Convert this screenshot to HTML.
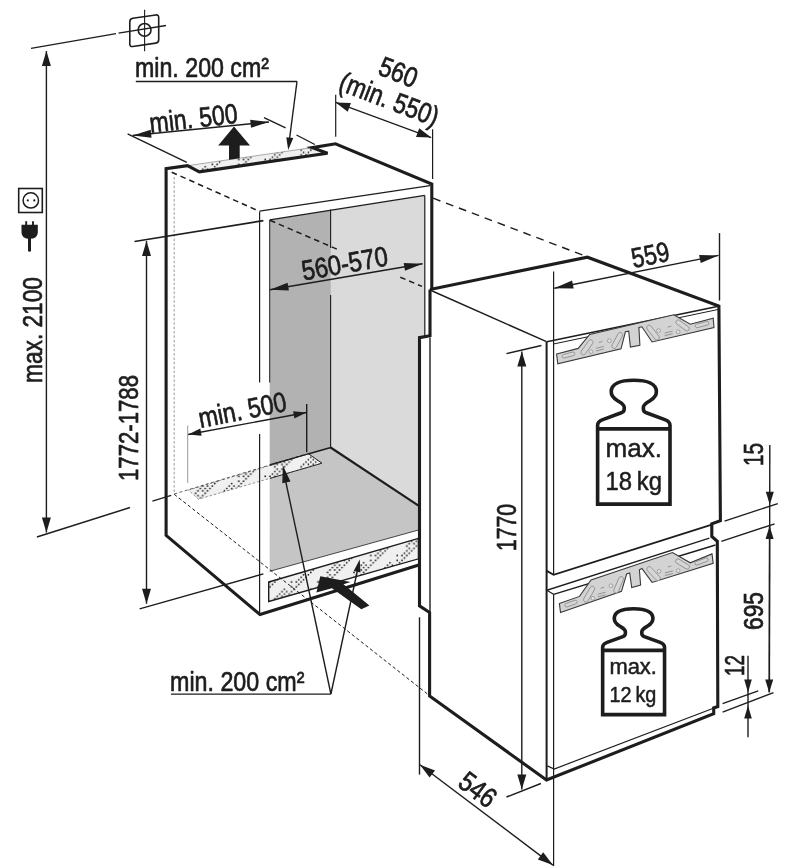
<!DOCTYPE html>
<html><head><meta charset="utf-8"><title>Einbauskizze</title>
<style>
html,body{margin:0;padding:0;background:#fff;}
body{width:785px;height:868px;overflow:hidden;}
svg{display:block;filter:grayscale(1);}
text{font-family:"Liberation Sans",sans-serif;fill:#1d1d1b;stroke:#1d1d1b;stroke-width:0.7px;stroke-linejoin:round;}
</style></head><body>
<svg width="785" height="868" viewBox="0 0 785 868">
<defs>
<pattern id="dots" width="26.4" height="26.4" patternUnits="userSpaceOnUse">
<rect width="26.4" height="26.4" fill="#f0f0f0"/><g fill="#111"><circle cx="1.2" cy="1.2" r="0.85"/><circle cx="1.2" cy="6.0" r="0.85"/><circle cx="1.2" cy="10.8" r="0.85"/><circle cx="3.6" cy="8.4" r="0.85"/><circle cx="6.0" cy="1.2" r="0.85"/><circle cx="6.0" cy="6.0" r="0.85"/><circle cx="8.4" cy="3.6" r="0.85"/><circle cx="8.4" cy="25.2" r="0.85"/><circle cx="10.8" cy="1.2" r="0.85"/><circle cx="10.8" cy="18.0" r="0.85"/><circle cx="10.8" cy="22.8" r="0.85"/><circle cx="13.2" cy="15.6" r="0.85"/><circle cx="13.2" cy="20.4" r="0.85"/><circle cx="13.2" cy="25.2" r="0.85"/><circle cx="15.6" cy="13.2" r="0.85"/><circle cx="15.6" cy="22.8" r="0.85"/><circle cx="18.0" cy="10.8" r="0.85"/><circle cx="18.0" cy="15.6" r="0.85"/><circle cx="18.0" cy="20.4" r="0.85"/><circle cx="20.4" cy="8.4" r="0.85"/><circle cx="20.4" cy="13.2" r="0.85"/><circle cx="20.4" cy="18.0" r="0.85"/><circle cx="22.8" cy="10.8" r="0.85"/><circle cx="22.8" cy="15.6" r="0.85"/><circle cx="25.2" cy="13.2" r="0.85"/></g>
</pattern>
</defs>
<path d="M269.7,219.9 L330.9,210.2 L330.9,448 L269.7,466 Z" fill="#b2b2b2" stroke="none" stroke-width="0" stroke-linejoin="miter" />
<path d="M330.9,210.2 L424.8,195.4 L424.8,337 L418.5,337 L418.5,505.7 L330.9,448 Z" fill="#dadada" stroke="none" stroke-width="0" stroke-linejoin="miter" />
<path d="M269.7,466 L308,454.1 L330.9,448 L418.5,505.7 L418.5,530 L269.7,571.3 Z" fill="#c5c5c5" stroke="none" stroke-width="0" stroke-linejoin="miter" />
<path d="M187.5,165.7 L199.3,171.8 L327.5,153.3 L312.2,147.6 Z" fill="url(#dots)" stroke="#888" stroke-width="0.7" stroke-linejoin="miter" />
<path d="M188.3,490.1 L308.6,453.8 L321.9,463.2 L198.5,499.2 Z" fill="url(#dots)" stroke="#666" stroke-width="0.7" stroke-linejoin="miter" stroke-dasharray="2.5,2"/>
<path d="M269.9,465.5 L308.6,453.8 L321.9,463.2 L269.9,478.4" fill="none" stroke="#1d1d1b" stroke-width="0.9" stroke-linejoin="miter" />
<path d="M268.7,582 L418.5,538.4 L418.5,558.8 L268.7,601.5 Z" fill="url(#dots)" stroke="#1d1d1b" stroke-width="1.4" stroke-linejoin="miter" />
<path d="M431.8,289 L431.8,184 L335.5,143.8 L312.2,147.6 L327.5,153.3 L199.3,171.8 L187.5,165.7 L166.1,168.7 L166.1,535.4 L260,614.6 L418.8,565" fill="none" stroke="#1d1d1b" stroke-width="3.1" stroke-linejoin="miter" />
<path d="M430,289.4 L587.4,257.2 L718.9,306 L720.4,520.6 L711.8,523.8 L711.8,536.5 L717.3,541.3 L717.8,706.6 L713.7,707.9 L713.7,713.8 L546.5,780 L429.6,696 L429.6,612.5 L419.5,605.9 L419.5,337.6 L430,335.8 L430,289.4" fill="none" stroke="#1d1d1b" stroke-width="3.1" stroke-linejoin="miter" />
<line x1="259.6" y1="211.5" x2="259.6" y2="382.5" stroke="#1d1d1b" stroke-width="1.2" />
<line x1="259.6" y1="434" x2="259.6" y2="614" stroke="#1d1d1b" stroke-width="1.2" />
<line x1="269.7" y1="220" x2="269.7" y2="382.5" stroke="#1d1d1b" stroke-width="1.0" />
<line x1="259.6" y1="211.2" x2="430" y2="185.7" stroke="#1d1d1b" stroke-width="1.2" />
<line x1="269.7" y1="219.9" x2="424.8" y2="195.4" stroke="#1d1d1b" stroke-width="1.2" />
<line x1="424.8" y1="195.4" x2="424.8" y2="337" stroke="#1d1d1b" stroke-width="1.2" />
<line x1="430" y1="337.6" x2="430" y2="612.7" stroke="#1d1d1b" stroke-width="1.4" />
<line x1="330.6" y1="447.5" x2="418.5" y2="505.7" stroke="#1d1d1b" stroke-width="2.1" />
<line x1="269.9" y1="464.6" x2="308" y2="454" stroke="#1d1d1b" stroke-width="1.0" />
<line x1="308" y1="454" x2="330.9" y2="447.5" stroke="#1d1d1b" stroke-width="1.7" />
<line x1="269.7" y1="571.3" x2="418.5" y2="530" stroke="#1d1d1b" stroke-width="0.8" />
<line x1="430" y1="290" x2="546.5" y2="341.7" stroke="#1d1d1b" stroke-width="1.4" />
<line x1="546.6" y1="341.7" x2="546.6" y2="780" stroke="#1d1d1b" stroke-width="2.0" />
<line x1="553.6" y1="271.6" x2="553.6" y2="574.6" stroke="#1d1d1b" stroke-width="1.2" />
<line x1="553.6" y1="594.3" x2="553.6" y2="866" stroke="#1d1d1b" stroke-width="1.2" />
<line x1="546.8" y1="341.8" x2="718.5" y2="306.2" stroke="#1d1d1b" stroke-width="1.6" />
<line x1="553.5" y1="344" x2="718" y2="309.5" stroke="#1d1d1b" stroke-width="1.0" />
<path d="M546.8,570.9 L553.6,574.8 L711.8,524.6" fill="none" stroke="#1d1d1b" stroke-width="1.8" stroke-linejoin="miter" />
<path d="M553.6,594.3 L546.8,590.3 L709.4,538.1" fill="none" stroke="#1d1d1b" stroke-width="1.3" stroke-linejoin="miter" />
<line x1="553.6" y1="594.3" x2="715.5" y2="545" stroke="#1d1d1b" stroke-width="1.4" />
<path d="M547.3,765.9 L554.2,769 L713.4,708.3" fill="none" stroke="#1d1d1b" stroke-width="1.2" stroke-linejoin="miter" />
<line x1="330.6" y1="209.6" x2="330.6" y2="248" stroke="#1d1d1b" stroke-width="1.1" />
<line x1="330.6" y1="295" x2="330.6" y2="447.4" stroke="#1d1d1b" stroke-width="1.1" />
<line x1="171.7" y1="172.2" x2="255.7" y2="209.7" stroke="#1d1d1b" stroke-width="1.5" stroke-dasharray="5.6,4"/>
<line x1="270" y1="220.3" x2="337.3" y2="249.3" stroke="#1d1d1b" stroke-width="1.5" stroke-dasharray="5.6,4"/>
<line x1="400.3" y1="277.2" x2="422" y2="286.4" stroke="#1d1d1b" stroke-width="1.5" stroke-dasharray="5.6,4"/>
<line x1="433.1" y1="198.2" x2="587.3" y2="256.8" stroke="#1d1d1b" stroke-width="1.4" stroke-dasharray="7.8,6"/>
<line x1="174.2" y1="494.3" x2="428.5" y2="694.8" stroke="#1d1d1b" stroke-width="1.0" stroke-dasharray="3.4,2.4"/>
<line x1="174.2" y1="494" x2="306" y2="454" stroke="#1d1d1b" stroke-width="0.7" stroke-dasharray="3,2.5"/>
<line x1="174.2" y1="177" x2="174.2" y2="494" stroke="#1d1d1b" stroke-width="0.6" stroke-dasharray="2.6,1.8" stroke-opacity="0.75"/>
<line x1="46.4" y1="51" x2="46.4" y2="532.5" stroke="#1d1d1b" stroke-width="1.4" />
<polygon points="46.4,51.0 50.9,66.0 41.9,66.0" fill="#1d1d1b"/>
<polygon points="46.4,532.5 41.9,517.5 50.9,517.5" fill="#1d1d1b"/>
<line x1="31" y1="48.4" x2="116" y2="33.6" stroke="#1d1d1b" stroke-width="1.4" />
<line x1="118.5" y1="33.1" x2="166" y2="25.5" stroke="#1d1d1b" stroke-width="1.4" />
<line x1="36.9" y1="537" x2="130" y2="507.5" stroke="#1d1d1b" stroke-width="1.4" />
<line x1="152.4" y1="501.1" x2="171.2" y2="495.3" stroke="#1d1d1b" stroke-width="1.4" />
<path d="M129.8,21.9 Q129.8,18.75 132.8,18.3 L155.7,14.95 Q158.7,14.5 158.7,17.5 L158.7,39.7 Q158.7,42.7 155.7,43.15 L132.8,46.45 Q129.8,46.9 129.8,43.9 Z" fill="none" stroke="#1d1d1b" stroke-width="1.6"/>
<circle cx="144.6" cy="29.9" r="6.4" fill="none" stroke="#1d1d1b" stroke-width="1.6"/>
<line x1="144.6" y1="9.8" x2="144.6" y2="51.3" stroke="#1d1d1b" stroke-width="1.1" />
<rect x="18.7" y="188.5" width="23.6" height="24" fill="none" stroke="#1d1d1b" stroke-width="1.6"/>
<circle cx="30.8" cy="200.4" r="7.7" fill="none" stroke="#1d1d1b" stroke-width="1.5"/>
<circle cx="27.8" cy="200.4" r="1.1" fill="#1d1d1b"/><circle cx="34.3" cy="200.4" r="1.1" fill="#1d1d1b"/>
<path d="M21.5,224.8 L37.8,224.8 L37.8,232.5 Q37.6,238.8 29.6,238.8 Q21.7,238.8 21.5,232.5 Z" fill="#1d1d1b"/>
<line x1="26.2" y1="221.2" x2="26.2" y2="226" stroke="#1d1d1b" stroke-width="1.9" />
<line x1="33" y1="221.2" x2="33" y2="226" stroke="#1d1d1b" stroke-width="1.9" />
<line x1="29.5" y1="236" x2="29.5" y2="250.3" stroke="#1d1d1b" stroke-width="3" stroke-linecap="round"/>
<text x="41.6" y="383" font-size="28" text-anchor="start" font-weight="normal" transform="rotate(-90 41.6 383)" textLength="106" lengthAdjust="spacingAndGlyphs" >max. 2100</text>
<line x1="146.5" y1="241" x2="146.5" y2="603.8" stroke="#1d1d1b" stroke-width="1.4" />
<polygon points="146.5,241.0 151.0,256.0 142.0,256.0" fill="#1d1d1b"/>
<polygon points="146.5,603.8 142.0,588.8 151.0,588.8" fill="#1d1d1b"/>
<line x1="134.5" y1="241.5" x2="263.4" y2="220.6" stroke="#1d1d1b" stroke-width="1.7" />
<line x1="139.6" y1="608.9" x2="263.4" y2="573.9" stroke="#1d1d1b" stroke-width="1.4" />
<text x="138" y="481" font-size="28" text-anchor="start" font-weight="normal" transform="rotate(-90 138 481)" textLength="106" lengthAdjust="spacingAndGlyphs" >1772-1788</text>
<line x1="132.7" y1="135.5" x2="269" y2="122" stroke="#1d1d1b" stroke-width="1.4" />
<polygon points="132.7,135.5 150.7,129.7 151.5,137.7" fill="#1d1d1b"/>
<polygon points="269.0,122.0 251.0,127.8 250.2,119.8" fill="#1d1d1b"/>
<line x1="127.6" y1="133.8" x2="186.8" y2="162.3" stroke="#1d1d1b" stroke-width="1.4" />
<line x1="264" y1="117.7" x2="285.6" y2="127.9" stroke="#1d1d1b" stroke-width="1.4" />
<line x1="296.5" y1="135" x2="314.8" y2="144.5" stroke="#1d1d1b" stroke-width="1.4" />
<text x="150.6" y="132.8" font-size="28" text-anchor="start" font-weight="normal" transform="rotate(-6.5 150.6 132.8)" textLength="88.5" lengthAdjust="spacingAndGlyphs" >min. 500</text>
<path d="M234,126.4 L250,145.5 L239.7,145.5 L239.7,158.2 L229,159.8 L229,145.5 L218.2,145.5 Z" fill="#1d1d1b" stroke="none" stroke-width="0" stroke-linejoin="miter" />
<text x="135" y="77" font-size="28" text-anchor="start" font-weight="normal" textLength="134" lengthAdjust="spacingAndGlyphs" >min. 200 cm²</text>
<line x1="135.8" y1="81.5" x2="297" y2="81.5" stroke="#1d1d1b" stroke-width="1.4" />
<line x1="297" y1="81.5" x2="288.6" y2="146" stroke="#1d1d1b" stroke-width="1.4" />
<polygon points="288.2,150.0 286.3,137.2 293.3,138.0" fill="#1d1d1b"/>
<line x1="335.7" y1="102.4" x2="431.2" y2="137.6" stroke="#1d1d1b" stroke-width="1.2" />
<polygon points="335.7,102.4 350.9,103.1 347.7,111.8" fill="#1d1d1b"/>
<polygon points="431.2,137.6 416.0,136.9 419.2,128.2" fill="#1d1d1b"/>
<line x1="335.7" y1="94.8" x2="335.7" y2="136.8" stroke="#1d1d1b" stroke-width="1.2" />
<line x1="432.6" y1="129.2" x2="432.6" y2="178.9" stroke="#1d1d1b" stroke-width="1.2" />
<text x="397.5" y="74.2" font-size="28" text-anchor="middle" font-weight="normal" transform="rotate(21 397.5 74.2)" textLength="39" lengthAdjust="spacingAndGlyphs" dominant-baseline="middle">560</text>
<text x="388.5" y="101.2" font-size="28" text-anchor="middle" font-weight="normal" transform="rotate(21 388.5 101.2)" textLength="104" lengthAdjust="spacingAndGlyphs" dominant-baseline="middle">(min. 550)</text>
<line x1="270" y1="289.8" x2="422.6" y2="263.8" stroke="#1d1d1b" stroke-width="1.4" />
<polygon points="270.0,289.8 287.6,282.8 288.9,290.5" fill="#1d1d1b"/>
<polygon points="422.6,263.8 405.0,270.8 403.7,263.1" fill="#1d1d1b"/>
<text x="303.4" y="280.6" font-size="28" text-anchor="start" font-weight="normal" transform="rotate(-10.1 303.4 280.6)" textLength="87.3" lengthAdjust="spacingAndGlyphs" >560-570</text>
<line x1="554.3" y1="288.2" x2="718.5" y2="255.4" stroke="#1d1d1b" stroke-width="1.4" />
<polygon points="554.3,288.2 572.1,280.5 573.7,288.5" fill="#1d1d1b"/>
<polygon points="718.5,255.4 700.7,263.1 699.1,255.1" fill="#1d1d1b"/>
<line x1="719.5" y1="233.1" x2="719.5" y2="300.6" stroke="#1d1d1b" stroke-width="1.4" />
<text x="633.6" y="268" font-size="28" text-anchor="start" font-weight="normal" transform="rotate(-11.5 633.6 268)" textLength="38" lengthAdjust="spacingAndGlyphs" >559</text>
<line x1="521.8" y1="351.6" x2="521.8" y2="789.4" stroke="#1d1d1b" stroke-width="1.4" />
<polygon points="521.8,351.6 526.3,366.6 517.3,366.6" fill="#1d1d1b"/>
<polygon points="521.8,789.4 517.3,774.4 526.3,774.4" fill="#1d1d1b"/>
<line x1="506.5" y1="353.6" x2="541.4" y2="345.5" stroke="#1d1d1b" stroke-width="1.4" />
<line x1="506.5" y1="797" x2="540.9" y2="783.5" stroke="#1d1d1b" stroke-width="1.4" />
<text x="515.5" y="551" font-size="28" text-anchor="start" font-weight="normal" transform="rotate(-90 515.5 551)" textLength="47" lengthAdjust="spacingAndGlyphs" >1770</text>
<line x1="419.9" y1="764.7" x2="552.9" y2="865.1" stroke="#1d1d1b" stroke-width="1.4" />
<polygon points="419.9,764.7 435.0,770.4 429.6,777.6" fill="#1d1d1b"/>
<polygon points="552.9,865.1 537.8,859.4 543.2,852.2" fill="#1d1d1b"/>
<line x1="419.5" y1="617.3" x2="419.5" y2="774.6" stroke="#1d1d1b" stroke-width="1.4" />
<text x="476.4" y="791.4" font-size="28" text-anchor="middle" font-weight="normal" transform="rotate(37 476.4 791.4)" textLength="39" lengthAdjust="spacingAndGlyphs" dominant-baseline="middle">546</text>
<line x1="769.8" y1="445" x2="769.4" y2="692" stroke="#1d1d1b" stroke-width="1.4" />
<polygon points="769.8,504.7 765.8,491.7 773.8,491.7" fill="#1d1d1b"/>
<line x1="724.5" y1="521.1" x2="777.8" y2="503.6" stroke="#1d1d1b" stroke-width="1.4" />
<line x1="721.3" y1="541.3" x2="774.6" y2="523.8" stroke="#1d1d1b" stroke-width="1.4" />
<line x1="769.6" y1="526" x2="769.2" y2="692.6" stroke="#1d1d1b" stroke-width="1.4" />
<polygon points="769.6,526.0 773.6,539.0 765.6,539.0" fill="#1d1d1b"/>
<polygon points="769.2,692.6 765.2,679.6 773.2,679.6" fill="#1d1d1b"/>
<line x1="748" y1="655.7" x2="748" y2="737.2" stroke="#1d1d1b" stroke-width="1.4" />
<polygon points="748.0,692.6 744.2,679.6 751.8,679.6" fill="#1d1d1b"/>
<polygon points="748.0,705.4 751.8,718.4 744.2,718.4" fill="#1d1d1b"/>
<line x1="722.6" y1="703.6" x2="758.2" y2="690.8" stroke="#1d1d1b" stroke-width="1.4" />
<line x1="722.6" y1="712.2" x2="773.5" y2="692.6" stroke="#1d1d1b" stroke-width="1.4" />
<text x="763" y="466" font-size="28" text-anchor="start" font-weight="normal" transform="rotate(-90 763 466)" textLength="23" lengthAdjust="spacingAndGlyphs" >15</text>
<text x="763" y="630" font-size="28" text-anchor="start" font-weight="normal" transform="rotate(-90 763 630)" textLength="38" lengthAdjust="spacingAndGlyphs" >695</text>
<text x="744" y="676" font-size="28" text-anchor="start" font-weight="normal" transform="rotate(-90 744 676)" textLength="21" lengthAdjust="spacingAndGlyphs" >12</text>
<text x="170" y="690.6" font-size="28" text-anchor="start" font-weight="normal" textLength="134.5" lengthAdjust="spacingAndGlyphs" >min. 200 cm²</text>
<line x1="170.9" y1="694.1" x2="330.9" y2="694.1" stroke="#1d1d1b" stroke-width="1.4" />
<line x1="330.9" y1="694" x2="283.5" y2="471" stroke="#1d1d1b" stroke-width="1.4" />
<polygon points="282.8,465.3 290.5,481.6 282.3,483.3" fill="#1d1d1b"/>
<line x1="330.9" y1="694" x2="358.6" y2="565" stroke="#1d1d1b" stroke-width="1.4" />
<polygon points="359.7,559.6 360.5,572.6 353.7,571.1" fill="#1d1d1b"/>
<path d="M320.3,576.2 L350.6,581.9 L343.5,584.2 L369.4,605.6 L361.3,609.2 L331.9,588.2 L316.4,592.6 Z" fill="#1d1d1b" stroke="none" stroke-width="0" stroke-linejoin="miter" />
<line x1="188.2" y1="434.5" x2="306.5" y2="412.5" stroke="#1d1d1b" stroke-width="1.4" />
<polygon points="188.2,434.5 200.3,428.5 201.6,435.7" fill="#1d1d1b"/>
<polygon points="306.5,412.5 294.4,418.5 293.1,411.3" fill="#1d1d1b"/>
<line x1="187.7" y1="425.5" x2="187.7" y2="482.9" stroke="#1d1d1b" stroke-width="1.0" stroke-opacity="0.45"/>
<line x1="306.7" y1="403.9" x2="306.7" y2="452.3" stroke="#1d1d1b" stroke-width="1.4" />
<text x="200.5" y="428" font-size="28" text-anchor="start" font-weight="normal" transform="rotate(-11.2 200.5 428)" textLength="89" lengthAdjust="spacingAndGlyphs" >min. 500</text>
<path d="M556.6,354 L578.2,348.4 L589.7,334.4 L673.8,314.8 L690.3,324.2 L713.2,318.3 L714,327.5 L652.1,342 L641.9,326.8 L638.9,327.5 L639.9,345.4 L630.4,347.1 L628.7,331.1 L625.4,331.8 L621,348.9 L557.8,363.7 Z" fill="#d3d3d3" stroke="#3a3a3a" stroke-width="1.1" stroke-linejoin="miter" />
<rect x="578.2" y="344.9" width="17.5" height="4.8" rx="2.4" fill="#d6d6d6" stroke="#8c8c8c" stroke-width="0.8" transform="rotate(-55 587.0 347.3)"/>
<rect x="608.5" y="338.1" width="17.5" height="4.8" rx="2.4" fill="#d6d6d6" stroke="#8c8c8c" stroke-width="0.8" transform="rotate(-62 617.2 340.5)"/>
<rect x="644.2" y="330.2" width="17.5" height="4.8" rx="2.4" fill="#d6d6d6" stroke="#8c8c8c" stroke-width="0.8" transform="rotate(52 653.0 332.6)"/>
<rect x="674.9" y="323.1" width="15.5" height="4.6" rx="2.3" fill="#d6d6d6" stroke="#8c8c8c" stroke-width="0.8" transform="rotate(36 682.6 325.4)"/>
<rect x="562.0" y="353.2" width="13" height="3.6" rx="1.8" fill="#d6d6d6" stroke="#8c8c8c" stroke-width="0.8" transform="rotate(-15 568.5 355.0)"/>
<rect x="695.0" y="322.8" width="14" height="3.6" rx="1.8" fill="#d6d6d6" stroke="#8c8c8c" stroke-width="0.8" transform="rotate(-15 702.0 324.6)"/>
<circle cx="591.0" cy="351.7" r="1.9" fill="#e2e2e2" stroke="#8c8c8c" stroke-width="0.7"/>
<circle cx="609.3" cy="340.8" r="1.9" fill="#e2e2e2" stroke="#8c8c8c" stroke-width="0.7"/>
<circle cx="658.5" cy="330.6" r="1.9" fill="#e2e2e2" stroke="#8c8c8c" stroke-width="0.7"/>
<circle cx="678.1" cy="331.8" r="1.9" fill="#e2e2e2" stroke="#8c8c8c" stroke-width="0.7"/>
<path d="M595.9,348.4 l8,-2 M595.9,351.0 l8,-2 M598.9,342.4 l3.5,-0.9" stroke="#8c8c8c" stroke-width="0.9" fill="none"/>
<path d="M664.7,333.1 l8,-2 M664.7,335.7 l8,-2 M667.7,327.1 l3.5,-0.9" stroke="#8c8c8c" stroke-width="0.9" fill="none"/>
<path d="M597.60,504.10 L597.60,425.20 C597.60,422.20 599.80,420.70 602.80,419.60 L621.30,412.80 C623.30,412.00 624.20,411.00 624.20,409.20 L624.20,407.20 C624.20,404.20 620.80,402.70 617.30,400.50 C613.30,398.00 611.20,395.70 611.20,391.70 C611.20,384.20 619.80,380.20 633.80,380.20 C647.80,380.20 656.40,384.20 656.40,391.70 C656.40,395.70 654.30,398.00 650.30,400.50 C646.80,402.70 643.40,404.20 643.40,407.20 L643.40,409.20 C643.40,411.00 644.30,412.00 646.30,412.80 L664.80,419.60 C667.80,420.70 670.00,422.20 670.00,425.20 L670.00,504.10 Z" fill="#fff" stroke="#1d1d1b" stroke-width="3.6" stroke-linejoin="miter"/>
<line x1="597.5999999999999" y1="428.9" x2="670.0" y2="428.9" stroke="#1d1d1b" stroke-width="3.6" />
<text x="605.5" y="456.7" font-size="25.5" text-anchor="start" font-weight="normal" textLength="56.5" lengthAdjust="spacingAndGlyphs" style="stroke-width:0.5px">max.</text>
<text x="605.5" y="489.7" font-size="25.5" text-anchor="start" font-weight="normal" textLength="56.5" lengthAdjust="spacingAndGlyphs" style="stroke-width:0.5px">18 kg</text>
<path d="M559.4,603.6 L579.5,596.4 L591,579.9 L672.5,552.6 L690.3,562.8 L712,553.9 L713.2,563.3 L652.1,582.4 L641.9,568.4 L639.4,569.7 L640.6,585 L631.7,587.5 L629.7,573 L626.6,574 L621.5,591.3 L560.5,612.5 Z" fill="#d3d3d3" stroke="#3a3a3a" stroke-width="1.1" stroke-linejoin="miter" />
<rect x="580.4" y="591.8" width="17.5" height="4.8" rx="2.4" fill="#d6d6d6" stroke="#8c8c8c" stroke-width="0.8" transform="rotate(-60 589.1 594.2)"/>
<rect x="609.9" y="582.4" width="17.5" height="4.8" rx="2.4" fill="#d6d6d6" stroke="#8c8c8c" stroke-width="0.8" transform="rotate(-67 618.6 584.8)"/>
<rect x="644.8" y="571.3" width="17.5" height="4.8" rx="2.4" fill="#d6d6d6" stroke="#8c8c8c" stroke-width="0.8" transform="rotate(47 653.6 573.7)"/>
<rect x="674.8" y="561.7" width="15.5" height="4.6" rx="2.3" fill="#d6d6d6" stroke="#8c8c8c" stroke-width="0.8" transform="rotate(31 682.5 564.0)"/>
<rect x="564.5" y="601.8" width="13" height="3.6" rx="1.8" fill="#d6d6d6" stroke="#8c8c8c" stroke-width="0.8" transform="rotate(-20 571.0 603.6)"/>
<rect x="694.5" y="559.7" width="14" height="3.6" rx="1.8" fill="#d6d6d6" stroke="#8c8c8c" stroke-width="0.8" transform="rotate(-20 701.5 561.5)"/>
<circle cx="593.0" cy="598.3" r="1.9" fill="#e2e2e2" stroke="#8c8c8c" stroke-width="0.7"/>
<circle cx="610.9" cy="585.8" r="1.9" fill="#e2e2e2" stroke="#8c8c8c" stroke-width="0.7"/>
<circle cx="659.0" cy="571.3" r="1.9" fill="#e2e2e2" stroke="#8c8c8c" stroke-width="0.7"/>
<circle cx="678.1" cy="570.7" r="1.9" fill="#e2e2e2" stroke="#8c8c8c" stroke-width="0.7"/>
<path d="M597.7,594.2 l8,-2 M597.7,596.8 l8,-2 M600.7,588.2 l3.5,-0.9" stroke="#8c8c8c" stroke-width="0.9" fill="none"/>
<path d="M664.9,572.9 l8,-2 M664.9,575.5 l8,-2 M667.9,566.9 l3.5,-0.9" stroke="#8c8c8c" stroke-width="0.9" fill="none"/>
<path d="M602.65,714.63 L602.65,647.18 C602.65,644.61 604.53,643.33 607.10,642.39 L622.91,636.57 C624.62,635.89 625.39,635.03 625.39,633.50 L625.39,631.79 C625.39,629.22 622.49,627.94 619.49,626.06 C616.07,623.92 614.28,621.95 614.28,618.53 C614.28,612.12 621.63,608.70 633.60,608.70 C645.57,608.70 652.92,612.12 652.92,618.53 C652.92,621.95 651.13,623.92 647.71,626.06 C644.72,627.94 641.81,629.22 641.81,631.79 L641.81,633.50 C641.81,635.03 642.58,635.89 644.29,636.57 L660.11,642.39 C662.67,643.33 664.55,644.61 664.55,647.18 L664.55,714.63 Z" fill="#fff" stroke="#1d1d1b" stroke-width="3.6" stroke-linejoin="miter"/>
<line x1="602.649" y1="650.3385000000001" x2="664.551" y2="650.3385000000001" stroke="#1d1d1b" stroke-width="3.6" />
<text x="609.4035" y="674.1075000000001" font-size="21.8025" text-anchor="start" font-weight="normal" textLength="47.5" lengthAdjust="spacingAndGlyphs" style="stroke-width:0.5px">max.</text>
<text x="609.4035" y="702.3225000000001" font-size="21.8025" text-anchor="start" font-weight="normal" textLength="47" lengthAdjust="spacingAndGlyphs" style="stroke-width:0.5px">12 kg</text>
</svg>
</body></html>
